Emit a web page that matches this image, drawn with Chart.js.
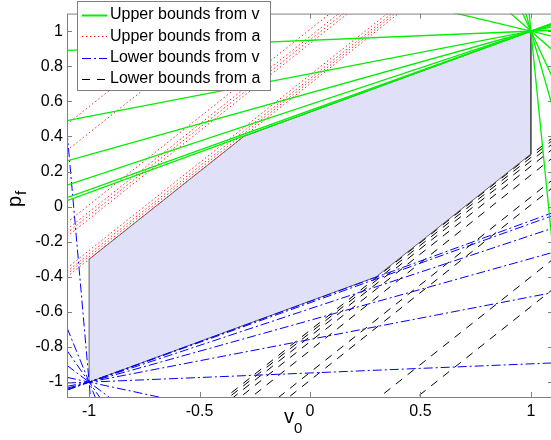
<!DOCTYPE html>
<html>
<head>
<meta charset="utf-8">
<script src="https://cdn.jsdelivr.net/npm/chart.js@4.4.1/dist/chart.umd.min.js"></script>
<style>
  html, body { margin: 0; padding: 0; background: #fff; overflow: hidden; }
  #wrap { width: 560px; height: 440px; }
</style>
</head>
<body>
<div id="wrap"><canvas id="c" width="560" height="440"></canvas></div>
<script>
// axis limits and ticks
const xLim = [-1.1, 1.1];
const yLim = [-1.085, 1.1];
const xTicks = [-1, -0.5, 0, 0.5, 1];
const yTicks = [-1, -0.8, -0.6, -0.4, -0.2, 0, 0.2, 0.4, 0.6, 0.8, 1];

// feasible region (shaded polygon)
const regionX = [-1, -1, -0.3, 1, 1, 0.3, -1];
const regionY = [-1, -0.3, 0.4, 1, 0.3, -0.4, -1];

// upper bounds from v: lines through (1,1) with these slopes
const upperVSlopes = [0.052, 0.243, 0.352, 0.418, 0.452, 0.46, -0.3, -1.1, -2.7, -4.4, -12.5];
// lower bounds from v: lines through (-1,-1)
const lowerVSlopes = [0.052, 0.243, 0.352, 0.418, 0.452, 0.46, -0.27, -0.95, -1.8, -3.1, -14.3];
// upper bounds from a: y = x + c
const upperAOffsets = [0.7, 0.715, 0.73, 0.75, 0.93, 0.95, 0.97, 1.01, 1.42, 1.57];
// lower bounds from a: y = x - c
const lowerAOffsets = [0.705, 0.72, 0.74, 0.77, 0.82, 0.945, 0.99, 1.4, 1.57];

const legendLabels = ['Upper bounds from v', 'Upper bounds from a', 'Lower bounds from v', 'Lower bounds from a'];
const styles = [
  { color: '#00ee00', dash: [], width: 1.3 },
  { color: '#ff2020', dash: [1.5, 2.5], width: 1 },
  { color: '#0000ff', dash: [9, 3, 2, 3], width: 1 },
  { color: '#000000', dash: [8, 7], width: 1 }
];

function lineThrough(px, py, s) {
  return xLim.map(x => ({ x, y: py + s * (x - px) }));
}
function lineOffset(c) {
  return xLim.map(x => ({ x, y: x + c }));
}

function lineSet(list, st) {
  return list.map(data => ({
    data, showLine: true, pointRadius: 0, borderColor: st.color,
    borderWidth: st.width, borderDash: st.dash, fill: false, order: 0
  }));
}

const datasets = [].concat(
  lineSet(upperVSlopes.map(s => lineThrough(1, 1, s)), styles[0]),
  lineSet(upperAOffsets.map(c => lineOffset(c)), styles[1]),
  lineSet(lowerVSlopes.map(s => lineThrough(-1, -1, s)), styles[2]),
  lineSet(lowerAOffsets.map(c => lineOffset(-c)), styles[3]),
  [{
    data: regionX.map((x, i) => ({ x, y: regionY[i] })),
    showLine: true, pointRadius: 0, borderColor: '#404040', borderWidth: 0.8,
    backgroundColor: 'rgb(224,224,248)', fill: 'shape', order: 10
  }]
);

const FONT = "'Liberation Sans', Arial, sans-serif";

const decor = {
  id: 'decor',
  afterDatasetsDraw(chart) {
    const ctx = chart.ctx;
    const a = chart.chartArea;
    const xs = chart.scales.x, ys = chart.scales.y;
    ctx.save();
    // frame
    ctx.strokeStyle = '#808080';
    ctx.lineWidth = 1;
    ctx.setLineDash([]);
    ctx.strokeRect(a.left + 0.5, a.top + 0.5, a.right - a.left, a.bottom - a.top);
    // inner ticks
    ctx.beginPath();
    xTicks.forEach(v => {
      const p = Math.round(xs.getPixelForValue(v)) + 0.5;
      ctx.moveTo(p, a.bottom); ctx.lineTo(p, a.bottom - 5);
      ctx.moveTo(p, a.top); ctx.lineTo(p, a.top + 5);
    });
    yTicks.forEach(v => {
      const p = Math.round(ys.getPixelForValue(v)) + 0.5;
      ctx.moveTo(a.left, p); ctx.lineTo(a.left + 5, p);
      ctx.moveTo(a.right, p); ctx.lineTo(a.right - 5, p);
    });
    ctx.stroke();

    // legend
    const lx = 77.5, ly = 1.5, lw = 193, lh = 89;
    ctx.fillStyle = '#fff';
    ctx.fillRect(lx, ly, lw, lh);
    ctx.strokeStyle = '#7f7f7f';
    ctx.strokeRect(lx, ly, lw, lh);
    ctx.font = '16px ' + FONT;
    ctx.textBaseline = 'middle';
    legendLabels.forEach((t, i) => {
      const y = 15 + i * 21.3;
      const st = styles[i];
      ctx.strokeStyle = st.color;
      ctx.lineWidth = i === 0 ? 2 : 1;
      ctx.setLineDash(st.dash);
      ctx.beginPath();
      ctx.moveTo(82, Math.round(y) + 0.5);
      ctx.lineTo(107, Math.round(y) + 0.5);
      ctx.stroke();
      ctx.fillStyle = '#000';
      ctx.fillText(t, 110, y);
    });
    ctx.setLineDash([]);

    // axis titles
    ctx.fillStyle = '#000';
    ctx.textBaseline = 'alphabetic';
    ctx.font = '20px ' + FONT;
    ctx.fillText('v', 284, 423);
    ctx.font = '15px ' + FONT;
    ctx.fillText('0', 294, 433);
    ctx.translate(21, 207);
    ctx.rotate(-Math.PI / 2);
    ctx.font = '20px ' + FONT;
    ctx.fillText('p', 0, 0);
    const pw = ctx.measureText('p').width;
    ctx.font = '15px ' + FONT;
    ctx.fillText('f', pw + 1, 5);
    ctx.restore();
  }
};

new Chart(document.getElementById('c'), {
  type: 'scatter',
  data: { datasets },
  options: {
    responsive: false,
    animation: false,
    events: [],
    layout: { padding: { top: 6, right: 7, left: 0, bottom: 0 } },
    plugins: { legend: { display: false }, tooltip: { enabled: false } },
    scales: {
      x: {
        type: 'linear', min: xLim[0], max: xLim[1],
        afterBuildTicks: s => { s.ticks = xTicks.map(v => ({ value: v })); },
        afterFit: s => { s.height = 43; },
        grid: { display: false, drawTicks: false },
        border: { display: false },
        ticks: { color: '#000', padding: 5, font: { family: FONT, size: 16 }, callback: v => String(v) }
      },
      y: {
        type: 'linear', min: yLim[0], max: yLim[1],
        afterBuildTicks: s => { s.ticks = yTicks.map(v => ({ value: v })); },
        afterFit: s => { s.width = 67; },
        grid: { display: false, drawTicks: false },
        border: { display: false },
        ticks: { color: '#000', padding: 4, font: { family: FONT, size: 16 }, callback: v => String(v) }
      }
    }
  },
  plugins: [decor]
});
</script>
</body>
</html>
